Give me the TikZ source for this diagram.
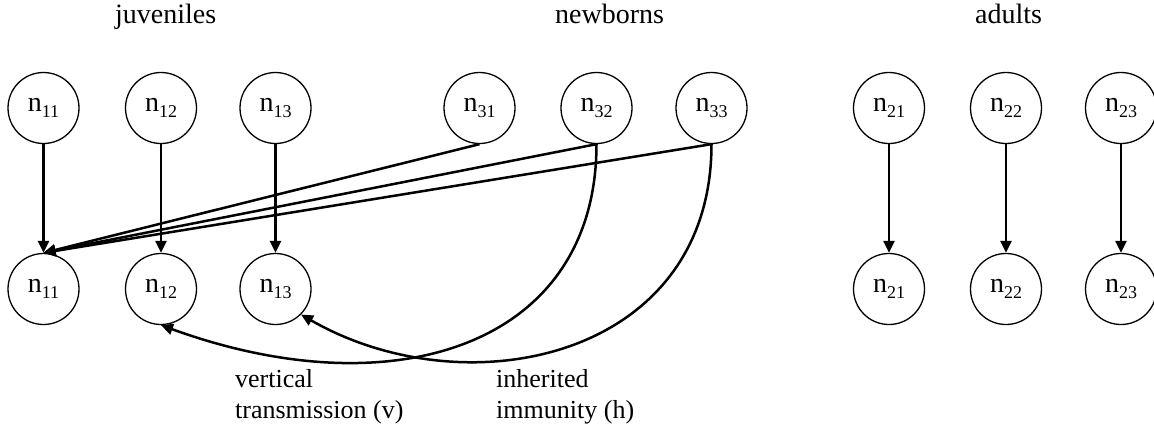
\documentclass[tikz,border=0pt]{standalone}
\usepackage{fontspec}
\setmainfont{Liberation Serif}
\usetikzlibrary{arrows.meta}
\newcommand\nsub[1]{n\raisebox{-6pt}{\fontsize{18}{18}\selectfont #1}}
\begin{document}
\begin{tikzpicture}[x=1pt,y=-1pt,
  state/.style={circle,draw,line width=1.3pt,minimum size=71pt,inner sep=0pt,font=\fontsize{28}{30}\selectfont},
  link/.style={line width=2.5pt,-{Triangle[length=12pt,width=11pt]}},
  title/.style={anchor=base west,inner sep=0pt,font=\fontsize{28}{30}\selectfont},
  note/.style={anchor=base west,inner sep=0pt,font=\fontsize{26}{28}\selectfont}]
\useasboundingbox (0,0) rectangle (1154,429);
\clip (0,0) rectangle (1154,429);
% titles
\node[title] (tj) at (115,23) {juveniles};
\node[title] (tn) at (555,23) {newborns};
\node[title] (ta) at (975,23) {adults};
% top row
\node[state] (t11) at (43.5,108) {\nsub{11}};
\node[state] (t12) at (161,108) {\nsub{12}};
\node[state] (t13) at (275.5,108) {\nsub{13}};
\node[state] (t31) at (479.5,108) {\nsub{31}};
\node[state] (t32) at (596.5,108) {\nsub{32}};
\node[state] (t33) at (711.5,108) {\nsub{33}};
\node[state] (t21) at (889,108) {\nsub{21}};
\node[state] (t22) at (1006,108) {\nsub{22}};
\node[state] (t23) at (1121,108) {\nsub{23}};
% bottom row
\node[state] (b11) at (43.5,289) {\nsub{11}};
\node[state] (b12) at (161,289) {\nsub{12}};
\node[state] (b13) at (275.5,289) {\nsub{13}};
\node[state] (b21) at (889,289) {\nsub{21}};
\node[state] (b22) at (1006,289) {\nsub{22}};
\node[state] (b23) at (1121,289) {\nsub{23}};
% vertical arrows
\draw[link] (t11.south) -- (b11.north);
\draw[link] (t12.south) -- (b12.north);
\draw[link] (t13.south) -- (b13.north);
\draw[link] (t21.south) -- (b21.north);
\draw[link] (t22.south) -- (b22.north);
\draw[link] (t23.south) -- (b23.north);
% newborn to juvenile
\draw[link] (t31.south) -- (b11.north);
\draw[link] (t32.south) -- (b11.north);
\draw[link] (t33.south) -- (b11.north);
% curves
\draw[link] (t32.south) .. controls +(0,200) and +(235,85.5) .. (b12.south);
\draw[link] (t33.south) .. controls +(0,215) and +(165,95) .. (b13.south east);
% labels
\node[note] (v1) at (235,387) {vertical};
\node[note] (v2) at (235,418) {transmission (v)};
\node[note] (h1) at (496,387) {inherited};
\node[note] (h2) at (496,418) {immunity (h)};
\end{tikzpicture}
\end{document}
